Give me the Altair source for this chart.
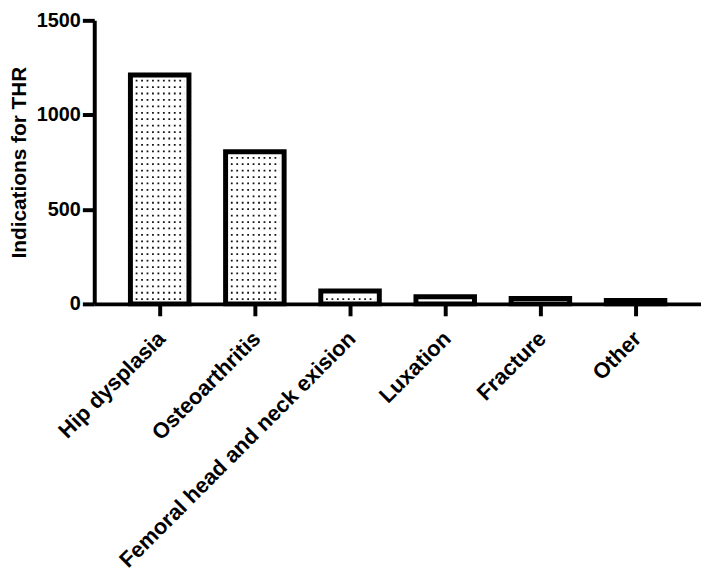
import altair as alt
import pandas as pd

categories = ["Hip dysplasia", "Osteoarthritis", "Femoral head and neck exision",
              "Luxation", "Fracture", "Other"]
values = [1211, 805, 68, 38, 28, 18]
y_ticks = [0, 500, 1000, 1500]

df = pd.DataFrame({"cat": categories, "val": values})
FONT = "Liberation Sans"

x_scale = alt.Scale(paddingInner=0.385, paddingOuter=0.38)
y_scale = alt.Scale(domain=[0, 1500], nice=False)
x_axis = alt.Axis(title=None, labelAngle=-45, labelAlign="right", labelBaseline="top",
                  labelPadding=12, labelOffset=-5, bandPosition=0.5, labelLimit=600, zindex=1)
y_axis = alt.Axis(title="Indications for THR", values=y_ticks, format="d",
                  titlePadding=7, zindex=1)

bars = alt.Chart(df).mark_bar(fill="white", stroke="black", strokeWidth=5).encode(
    x=alt.X("cat:N", sort=categories, scale=x_scale, axis=x_axis),
    y=alt.Y("val:Q", scale=y_scale, axis=y_axis),
)

# dotted fill: one dashed row every ~34 units inside each bar
dots = (
    alt.Chart(df)
    .transform_calculate(row="sequence(25, datum.val - 20, 34)")
    .transform_flatten(["row"])
    .mark_rule(strokeDash=[1.8, 3.7], strokeWidth=1.8, color="#111111")
    .encode(
        x=alt.X("cat:N", sort=categories, bandPosition=0.09, scale=x_scale, axis=x_axis),
        x2=alt.X2("cat", bandPosition=0.93),
        y=alt.Y("row:Q", scale=y_scale, axis=y_axis),
    )
)

chart = (
    alt.layer(bars, dots)
    .properties(width=612, height=286, padding={"left": 0, "top": 0, "right": 0, "bottom": 0})
    .configure_view(stroke=None)
    .configure_axis(
        grid=False, domainColor="black", domainWidth=4, tickColor="black", tickWidth=4,
        tickSize=12, labelColor="black", labelFont=FONT, labelFontWeight="bold",
        labelFontSize=22, titleFont=FONT, titleFontWeight="bold", titleFontSize=21,
        titleColor="black",
    )
    .configure_axisY(labelFontSize=20)
)

chart.save("out.html", embed_options={"renderer": "svg", "actions": False})
